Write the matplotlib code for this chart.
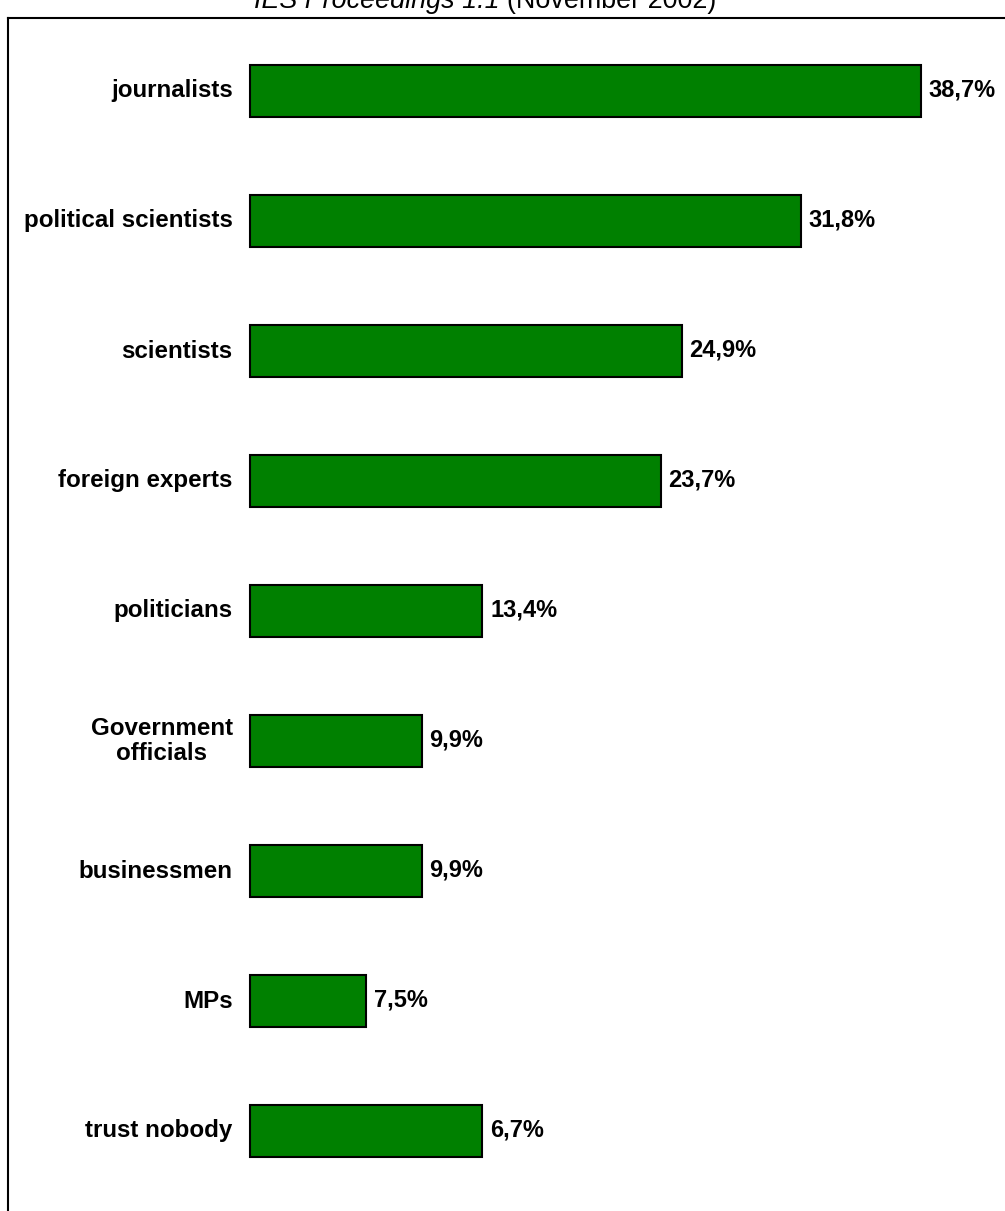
import matplotlib
matplotlib.use("Agg")
import matplotlib.pyplot as plt

categories = ["journalists", "political scientists", "scientists", "foreign experts",
              "politicians", "Government\nofficials", "businessmen", "MPs", "trust nobody"]
bar_values = [38.7, 31.8, 24.9, 23.7, 13.4, 9.9, 9.9, 6.7, 13.4]
value_labels = ["38,7%", "31,8%", "24,9%", "23,7%", "13,4%", "9,9%", "9,9%", "7,5%", "6,7%"]

plt.rcParams['font.family'] = ['Liberation Sans', 'DejaVu Sans']

W, H = 1005, 1211
fig = plt.figure(figsize=(W / 100, H / 100), dpi=100)

left_px, top_px = 8, 18
ax = fig.add_axes([left_px / W, 0, 1 - left_px / W, 1 - top_px / H])

px_per_unit = 17.33
zero_px = 250
xmin = -(zero_px - left_px) / px_per_unit
xmax = xmin + (W - left_px) / px_per_unit
ax.set_xlim(xmin, xmax)

row_px = 130
first_center = 91
ytop = -(first_center - top_px) / row_px
ybot = (H - first_center) / row_px
ax.set_ylim(ybot, ytop)

ypos = list(range(len(categories)))
ax.barh(ypos, bar_values, height=0.4, color="#008000", edgecolor="black", linewidth=1.5)

for y, cat, v, lab in zip(ypos, categories, bar_values, value_labels):
    ax.text(-1.0, y, cat, ha="right", va="center", fontsize=17.4, fontweight="bold",
            multialignment="center", linespacing=1.15)
    ax.text(v + 0.45, y - 0.01, lab, ha="left", va="center", fontsize=17, fontweight="bold")

ax.set_xticks([])
ax.set_yticks([])
for s in ["right", "bottom"]:
    ax.spines[s].set_visible(False)
for s in ["left", "top"]:
    ax.spines[s].set_linewidth(1.5)

ty = 1 - 8 / H
fig.text(0.5045, ty, "IES Proceedings 1.1 ", ha="right", va="baseline", fontsize=19.4,
         style="italic")
fig.text(0.5045, ty, "(November 2002)", ha="left", va="baseline", fontsize=19.4)

fig.savefig("out.png", dpi=100)
